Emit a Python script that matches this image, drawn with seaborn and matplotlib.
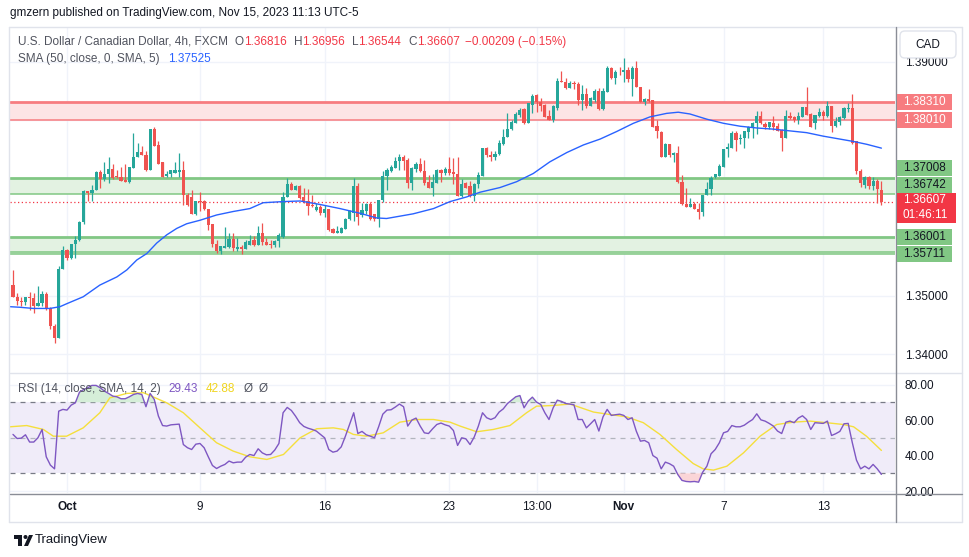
import matplotlib
matplotlib.use("Agg")
import numpy as np
import pandas as pd
import matplotlib.pyplot as plt
import seaborn as sns
from matplotlib.patches import Rectangle, FancyBboxPatch, Polygon, Ellipse
from matplotlib.lines import Line2D

sns.set_theme(style="white")
plt.rcParams["font.family"] = ["Liberation Sans", "DejaVu Sans"]

# USDCAD 4h candles
opens = [
    1.3518, 1.3497, 1.3490, 1.3489, 1.3497, 1.3496, 1.3483, 1.3487, 1.3503, 1.3478,
    1.3448, 1.3428, 1.3546, 1.3578, 1.3565, 1.3588, 1.3595, 1.3626, 1.3679, 1.3675,
    1.3681, 1.3712, 1.3700, 1.3708, 1.3716, 1.3705, 1.3703, 1.3698, 1.3695, 1.3718,
    1.3737, 1.3746, 1.3741, 1.3715, 1.3785, 1.3758, 1.3728, 1.3704, 1.3709, 1.3710,
    1.3711, 1.3715, 1.3672, 1.3668, 1.3640, 1.3662, 1.3662, 1.3648, 1.3622, 1.3589,
    1.3577, 1.3582, 1.3584, 1.3597, 1.3580, 1.3583, 1.3580, 1.3587, 1.3595, 1.3587,
    1.3607, 1.3592, 1.3588, 1.3587, 1.3594, 1.3600, 1.3668, 1.3691, 1.3681, 1.3688,
    1.3668, 1.3662, 1.3655, 1.3647, 1.3651, 1.3642, 1.3648, 1.3614, 1.3608, 1.3608,
    1.3614, 1.3631, 1.3642, 1.3687, 1.3638, 1.3645, 1.3657, 1.3639, 1.3632, 1.3664,
    1.3704, 1.3714, 1.3718, 1.3730, 1.3737, 1.3732, 1.3692, 1.3716, 1.3725, 1.3713,
    1.3695, 1.3685, 1.3693, 1.3715, 1.3710, 1.3717, 1.3711, 1.3709, 1.3671, 1.3692,
    1.3688, 1.3671, 1.3691, 1.3705, 1.3753, 1.3741, 1.3738, 1.3742, 1.3760, 1.3771,
    1.3785, 1.3795, 1.3809, 1.3819, 1.3796, 1.3826, 1.3843, 1.3832, 1.3826, 1.3808,
    1.3801, 1.3821, 1.3868, 1.3866, 1.3856, 1.3864, 1.3863, 1.3835, 1.3845, 1.3825,
    1.3835, 1.3850, 1.3820, 1.3849, 1.3890, 1.3873, 1.3883, 1.3882, 1.3887, 1.3871,
    1.3889, 1.3857, 1.3832, 1.3837, 1.3835, 1.3790, 1.3780, 1.3738, 1.3759, 1.3740,
    1.3745, 1.3694, 1.3657, 1.3652, 1.3656, 1.3649, 1.3643, 1.3672, 1.3682, 1.3703,
    1.3705, 1.3721, 1.3751, 1.3753, 1.3779, 1.3768, 1.3769, 1.3780, 1.3788, 1.3795,
    1.3808, 1.3793, 1.3788, 1.3796, 1.3791, 1.3784, 1.3770, 1.3808, 1.3805, 1.3800,
    1.3806, 1.3823, 1.3811, 1.3796, 1.3808, 1.3814, 1.3808, 1.3824, 1.3791, 1.3798,
    1.3804, 1.3820, 1.3822, 1.3764, 1.3714, 1.3690, 1.3703, 1.3688, 1.3697, 1.36816,
]
highs = [
    1.3544, 1.3504, 1.3498, 1.3498, 1.3506, 1.3504, 1.3516, 1.3508, 1.3506, 1.3481,
    1.3451, 1.3550, 1.3585, 1.3580, 1.3589, 1.3602, 1.3628, 1.3681, 1.3679, 1.3689,
    1.3714, 1.3715, 1.3729, 1.3738, 1.3725, 1.3715, 1.3720, 1.3725, 1.3721, 1.3779,
    1.3762, 1.3756, 1.3748, 1.3785, 1.3789, 1.3765, 1.3729, 1.3714, 1.3715, 1.3728,
    1.3745, 1.3731, 1.3675, 1.3681, 1.3662, 1.3678, 1.3664, 1.3648, 1.3622, 1.3595,
    1.3585, 1.3617, 1.3607, 1.3607, 1.3598, 1.3587, 1.3595, 1.3604, 1.3602, 1.3619,
    1.3624, 1.3598, 1.3595, 1.3596, 1.3607, 1.3678, 1.3701, 1.3694, 1.3689, 1.3689,
    1.3684, 1.3682, 1.3672, 1.3659, 1.3655, 1.3655, 1.3649, 1.3615, 1.3619, 1.3618,
    1.3633, 1.3646, 1.3702, 1.3693, 1.3658, 1.3658, 1.3660, 1.3640, 1.3664, 1.3713,
    1.3718, 1.3724, 1.3738, 1.3742, 1.3741, 1.3735, 1.3721, 1.3728, 1.3735, 1.3732,
    1.3706, 1.3709, 1.3716, 1.3716, 1.3721, 1.3737, 1.3736, 1.3738, 1.3700, 1.3694,
    1.3696, 1.3692, 1.3712, 1.3753, 1.3754, 1.3748, 1.3748, 1.3767, 1.3785, 1.3812,
    1.3801, 1.3815, 1.3821, 1.3821, 1.3830, 1.3845, 1.3845, 1.3838, 1.3828, 1.3818,
    1.3826, 1.3872, 1.3885, 1.3872, 1.3868, 1.3868, 1.3865, 1.3860, 1.3855, 1.3840,
    1.3853, 1.3855, 1.3855, 1.3893, 1.3892, 1.3886, 1.3892, 1.3907, 1.3892, 1.3893,
    1.3901, 1.3858, 1.3839, 1.3854, 1.3835, 1.3801, 1.3782, 1.3761, 1.3760, 1.3746,
    1.3757, 1.3707, 1.3684, 1.3667, 1.3661, 1.3658, 1.3673, 1.3695, 1.3705, 1.3709,
    1.3726, 1.3751, 1.3761, 1.3782, 1.3782, 1.3776, 1.3782, 1.3791, 1.3798, 1.3816,
    1.3816, 1.3798, 1.3798, 1.3808, 1.3795, 1.3786, 1.3818, 1.3814, 1.3808, 1.3815,
    1.3823, 1.3858, 1.3812, 1.3810, 1.3821, 1.3818, 1.3833, 1.3825, 1.3805, 1.3807,
    1.3823, 1.3829, 1.3845, 1.3764, 1.3716, 1.3705, 1.3705, 1.3703, 1.3700, 1.36956,
]
lows = [
    1.3497, 1.3484, 1.3483, 1.3484, 1.3476, 1.3471, 1.3482, 1.3482, 1.3476, 1.3443,
    1.3418, 1.3427, 1.3545, 1.3561, 1.3563, 1.3564, 1.3594, 1.3623, 1.3662, 1.3662,
    1.3680, 1.3684, 1.3697, 1.3692, 1.3699, 1.3701, 1.3697, 1.3695, 1.3692, 1.3718,
    1.3737, 1.3740, 1.3713, 1.3715, 1.3757, 1.3725, 1.3703, 1.3703, 1.3703, 1.3710,
    1.3703, 1.3655, 1.3654, 1.3640, 1.3638, 1.3645, 1.3646, 1.3612, 1.3584, 1.3573,
    1.3571, 1.3581, 1.3581, 1.3577, 1.3577, 1.3572, 1.3580, 1.3587, 1.3585, 1.3587,
    1.3587, 1.3587, 1.3581, 1.3584, 1.3584, 1.3598, 1.3668, 1.3680, 1.3680, 1.3665,
    1.3659, 1.3638, 1.3651, 1.3644, 1.3638, 1.3635, 1.3611, 1.3608, 1.3607, 1.3607,
    1.3614, 1.3629, 1.3628, 1.3621, 1.3635, 1.3639, 1.3630, 1.3627, 1.3618, 1.3661,
    1.3680, 1.3712, 1.3718, 1.3715, 1.3715, 1.3685, 1.3680, 1.3712, 1.3711, 1.3689,
    1.3684, 1.3671, 1.3692, 1.3694, 1.3706, 1.3706, 1.3691, 1.3671, 1.3669, 1.3684,
    1.3669, 1.3662, 1.3684, 1.3705, 1.3738, 1.3731, 1.3732, 1.3741, 1.3758, 1.3771,
    1.3783, 1.3795, 1.3806, 1.3794, 1.3795, 1.3813, 1.3815, 1.3816, 1.3805, 1.3801,
    1.3798, 1.3818, 1.3865, 1.3853, 1.3855, 1.3853, 1.3827, 1.3818, 1.3821, 1.3824,
    1.3832, 1.3818, 1.3818, 1.3848, 1.3871, 1.3863, 1.3877, 1.3866, 1.3865, 1.3842,
    1.3857, 1.3831, 1.3827, 1.3832, 1.3789, 1.3769, 1.3738, 1.3738, 1.3738, 1.3729,
    1.3692, 1.3655, 1.3652, 1.3652, 1.3648, 1.3631, 1.3637, 1.3672, 1.3672, 1.3702,
    1.3705, 1.3721, 1.3738, 1.3753, 1.3748, 1.3759, 1.3753, 1.3770, 1.3770, 1.3776,
    1.3793, 1.3786, 1.3786, 1.3784, 1.3782, 1.3748, 1.3769, 1.3802, 1.3798, 1.3793,
    1.3806, 1.3810, 1.3789, 1.3785, 1.3806, 1.3801, 1.3806, 1.3780, 1.3789, 1.3792,
    1.3802, 1.3815, 1.3760, 1.3708, 1.3686, 1.3685, 1.3682, 1.3680, 1.3659, 1.36544,
]
closes = [
    1.3497, 1.3490, 1.3489, 1.3497, 1.3496, 1.3482, 1.3487, 1.3503, 1.3478, 1.3448,
    1.3428, 1.3546, 1.3578, 1.3565, 1.3588, 1.3595, 1.3626, 1.3679, 1.3675, 1.3681,
    1.3712, 1.3700, 1.3708, 1.3716, 1.3702, 1.3703, 1.3697, 1.3695, 1.3721, 1.3737,
    1.3746, 1.3740, 1.3715, 1.3785, 1.3757, 1.3725, 1.3703, 1.3709, 1.3715, 1.3715,
    1.3715, 1.3672, 1.3655, 1.3640, 1.3662, 1.3661, 1.3648, 1.3621, 1.3588, 1.3577,
    1.3585, 1.3585, 1.3597, 1.3581, 1.3583, 1.3580, 1.3592, 1.3594, 1.3587, 1.3607,
    1.3591, 1.3587, 1.3587, 1.3593, 1.3603, 1.3668, 1.3691, 1.3681, 1.3688, 1.3667,
    1.3661, 1.3654, 1.3653, 1.3651, 1.3641, 1.3648, 1.3613, 1.3608, 1.3611, 1.3616,
    1.3632, 1.3644, 1.3687, 1.3635, 1.3647, 1.3657, 1.3632, 1.3632, 1.3664, 1.3704,
    1.3715, 1.3720, 1.3731, 1.3737, 1.3731, 1.3692, 1.3718, 1.3725, 1.3714, 1.3693,
    1.3685, 1.3695, 1.3715, 1.3710, 1.3717, 1.3710, 1.3709, 1.3671, 1.3691, 1.3685,
    1.3671, 1.3691, 1.3706, 1.3753, 1.3740, 1.3738, 1.3742, 1.3761, 1.3771, 1.3786,
    1.3798, 1.3811, 1.3818, 1.3796, 1.3829, 1.3842, 1.3832, 1.3825, 1.3806, 1.3801,
    1.3825, 1.3868, 1.3866, 1.3856, 1.3864, 1.3863, 1.3835, 1.3845, 1.3825, 1.3838,
    1.3850, 1.3820, 1.3850, 1.3890, 1.3873, 1.3882, 1.3882, 1.3887, 1.3871, 1.3889,
    1.3857, 1.3832, 1.3837, 1.3834, 1.3789, 1.3782, 1.3738, 1.3759, 1.3741, 1.3745,
    1.3694, 1.3657, 1.3652, 1.3657, 1.3649, 1.3643, 1.3672, 1.3682, 1.3702, 1.3708,
    1.3722, 1.3751, 1.3755, 1.3779, 1.3766, 1.3770, 1.3781, 1.3789, 1.3796, 1.3808,
    1.3795, 1.3788, 1.3797, 1.3788, 1.3782, 1.3770, 1.3808, 1.3804, 1.3800, 1.3808,
    1.3823, 1.3810, 1.3789, 1.3809, 1.3814, 1.3808, 1.3824, 1.3791, 1.3799, 1.3805,
    1.3822, 1.3822, 1.3762, 1.3713, 1.3692, 1.3703, 1.3688, 1.3697, 1.3682, 1.36607,
]
rsi = [
    51.9, 49.6, 49.8, 51.7, 47.6, 47.6, 50.0, 54.7, 39.3, 34.6,
    32.5, 65.0, 66.0, 65.6, 68.4, 69.7, 75.7, 77.2, 78.2, 79.5,
    79.5, 78.2, 76.3, 75.0, 73.5, 73.1, 72.0, 72.0, 73.1, 74.4,
    75.0, 74.4, 67.5, 75.0, 71.6, 62.2, 56.9, 56.6, 57.3, 57.5,
    57.7, 46.2, 44.4, 43.4, 46.4, 46.8, 44.4, 39.3, 34.4, 32.7,
    34.0, 35.0, 36.9, 35.9, 36.3, 36.3, 39.1, 40.6, 40.0, 43.8,
    41.5, 40.4, 40.6, 43.1, 46.8, 64.1, 67.1, 65.4, 62.2, 58.5,
    56.4, 55.4, 54.7, 53.8, 51.9, 50.0, 43.4, 41.9, 42.5, 44.9,
    50.9, 57.5, 64.1, 52.4, 53.6, 51.7, 50.9, 50.0, 56.2, 63.3,
    65.6, 65.8, 67.3, 69.0, 67.5, 56.6, 60.0, 61.1, 56.6, 52.8,
    52.4, 55.1, 57.5, 58.3, 57.3, 56.6, 54.1, 45.7, 50.0, 49.4,
    46.2, 50.4, 56.6, 64.1, 61.3, 60.3, 61.3, 64.5, 66.3, 69.3,
    71.2, 73.1, 73.8, 66.9, 70.7, 72.9, 70.1, 68.8, 64.1, 60.3,
    66.9, 71.2, 70.5, 69.3, 69.0, 68.6, 60.3, 60.3, 55.6, 57.9,
    60.3, 53.8, 61.8, 66.0, 62.6, 63.0, 63.3, 62.6, 60.3, 61.3,
    53.8, 48.1, 48.5, 47.2, 40.0, 38.5, 32.5, 36.3, 35.4, 34.0,
    29.3, 26.0, 25.4, 25.2, 25.4, 25.0, 30.7, 34.0, 41.0, 43.4,
    47.2, 52.8, 53.6, 56.9, 56.2, 56.2, 57.1, 58.8, 60.3, 63.5,
    60.1, 59.4, 58.1, 56.6, 53.8, 52.4, 58.8, 59.4, 58.5, 61.1,
    62.4, 60.3, 54.7, 58.5, 58.3, 58.1, 59.4, 51.3, 52.3, 53.6,
    57.9, 58.1, 47.2, 37.4, 32.5, 34.0, 32.5, 35.0, 32.5, 29.4,
]

# SMA(50) on price and SMA(14) on RSI, read at bar positions
sma_pos = [-0.7, 1.7, 4.9, 8.9, 11.3, 12.9, 16.9, 20.9, 25.0, 27.4, 29.8, 32.2, 34.6,
           37.0, 39.4, 41.8, 45.0, 49.0, 53.0, 57.0, 60.2, 65.1, 69.1, 73.9, 78.7,
           83.5, 87.5, 89.9, 93.1, 96.3, 101.2, 105.2, 109.2, 112.4, 117.2, 121.2,
           125.2, 129.2, 133.3, 137.3, 141.3, 145.3, 149.3, 153.3, 157.3, 160.1,
           162.9, 167.0, 171.0, 175.0, 179.0, 183.0, 187.0, 191.0, 195.0, 199.0,
           202.2, 205.5, 209.0]
sma_val = [1.3481, 1.3480, 1.3478, 1.3478, 1.3481, 1.3486, 1.3498, 1.3518, 1.3532,
           1.3544, 1.3561, 1.3572, 1.3590, 1.3604, 1.3615, 1.3623, 1.3629, 1.3638,
           1.3644, 1.3649, 1.3659, 1.3661, 1.3662, 1.3656, 1.3649, 1.3641, 1.3633,
           1.3632, 1.3636, 1.3640, 1.3649, 1.3661, 1.3669, 1.3677, 1.3685, 1.3695,
           1.3709, 1.3729, 1.3745, 1.3758, 1.3768, 1.3781, 1.3795, 1.3806, 1.3812,
           1.3814, 1.3811, 1.3802, 1.3795, 1.3790, 1.3787, 1.3785, 1.3782, 1.3779,
           1.3773, 1.3768, 1.3764, 1.3759, 1.37525]
rsi_ma_pos = [-0.7, 3.3, 7.3, 9.7, 12.9, 16.9, 20.9, 23.3, 27.4, 31.4, 37.0, 41.0,
              45.0, 49.0, 53.0, 57.0, 61.1, 65.1, 69.1, 73.1, 77.1, 79.5, 81.9,
              85.1, 89.1, 93.1, 97.2, 101.2, 105.2, 107.6, 111.6, 115.6, 119.6,
              123.6, 126.0, 130.0, 134.0, 135.6, 139.7, 143.7, 147.7, 151.7, 155.7,
              159.7, 163.7, 166.1, 168.6, 171.8, 175.8, 179.8, 183.8, 187.8, 191.8,
              195.8, 199.8, 202.3, 205.4, 209.0]
rsi_ma = [56.2, 56.9, 54.7, 50.9, 50.9, 55.6, 64.1, 72.5, 75.0, 75.4, 69.7, 64.1,
          55.6, 47.2, 42.5, 39.3, 37.8, 40.6, 50.0, 55.1, 55.6, 54.7, 51.9, 50.9,
          52.8, 58.8, 60.3, 60.3, 58.8, 56.6, 53.4, 54.7, 56.9, 64.1, 67.8, 68.2,
          69.0, 67.8, 64.5, 63.1, 61.8, 58.5, 51.9, 43.4, 35.5, 32.5, 31.8, 34.0,
          41.5, 50.9, 57.5, 58.8, 59.4, 58.5, 57.5, 56.2, 50.9, 42.88]

# support / resistance zones (top, bottom) and colours
zone_tops = [1.38310, 1.37008, 1.36001]
zone_bottoms = [1.38010, 1.36742, 1.35711]
zone_kind = ["res", "sup", "sup"]
last_price = 1.36607
countdown = "01:46:11"

tick_pos = [13, 45, 75, 105, 126, 147, 171, 195]
tick_labels = ["Oct", "9", "16", "23", "13:00", "Nov", "7", "13"]
price_ticks = [1.34, 1.35, 1.36, 1.37, 1.38, 1.39]
price_tick_labels = ["1.34000", "1.35000", "", "", "", "1.39000"]
rsi_ticks = [20, 40, 60, 80]

GREEN, RED = "#26a69a", "#ef5350"
TXT = "#131722"
GREY_TXT = "#50535e"

df = pd.DataFrame({"open": opens, "high": highs, "low": lows, "close": closes, "rsi": rsi})
df["i"] = np.arange(len(df))

W, H = 970, 557
fig = plt.figure(figsize=(W / 100, H / 100), dpi=100)
fig.patch.set_facecolor("white")


def fx(x):
    return x / W


def fy(y):
    return 1 - y / H


ax = fig.add_axes([fx(10), fy(373), (895 - 10) / W, (373 - 27) / H])
rax = fig.add_axes([fx(10), fy(493), (895 - 10) / W, (493 - 373) / H], sharex=ax)

# zones
for top, bot, kind in zip(zone_tops, zone_bottoms, zone_kind):
    if kind == "res":
        fill, line = "#fde4e5", "#f77c80"
    else:
        fill, line = "#e3f2e2", "#81c784"
    ax.axhspan(bot, top, color=fill, lw=0, zorder=1)
    ax.axhline(top, color=line, lw=2.0, zorder=2)
    ax.axhline(bot, color=line, lw=1.1, zorder=2)
ax.axhline(1.35740, color="#81c784", lw=1.1, zorder=2)
ax.axhline(last_price, color="#f23645", lw=0.9, ls=(0, (1, 2)), zorder=3)

# candles
col = np.where(df.close >= df.open, GREEN, RED)
ax.vlines(df.i, df.low, df.high, colors=col, lw=0.9, zorder=4)
body_lo = np.minimum(df.open, df.close)
body_h = np.maximum((df.close - df.open).abs(), 0.00014)
ax.bar(df.i, body_h, bottom=body_lo, width=0.76, color=col, lw=0, zorder=5)

sns.lineplot(x=sma_pos, y=sma_val, ax=ax, color="#2962ff", lw=1.0, zorder=6)

# RSI pane
rax.axhspan(30, 70, color="#f0ecf9", lw=0, zorder=1)
rax.axhline(70, color="#787b86", lw=0.9, ls=(0, (4, 4)), zorder=2)
rax.axhline(30, color="#787b86", lw=0.9, ls=(0, (4, 4)), zorder=2)
rax.axhline(50, color="#b2b5be", lw=0.9, ls=(0, (4, 4)), zorder=2)
r = df.rsi.values
rax.fill_between(df.i, r, 70, where=r > 70, interpolate=True, color="#d5eed8", lw=0, zorder=2)
rax.fill_between(df.i, r, 30, where=r < 30, interpolate=True, color="#fbd5d7", lw=0, zorder=2)
sns.lineplot(x=df.i, y=df.rsi, ax=rax, color="#7e57c2", lw=1.0, zorder=4)
sns.lineplot(x=rsi_ma_pos, y=rsi_ma, ax=rax, color="#f5df3c", lw=1.0, zorder=3)

ax.set_xlim(-0.72, 212.27)
ax.set_ylim(1.336747, 1.39599)
rax.set_ylim(18.9, 86.5)

for a in (ax, rax):
    for s in a.spines.values():
        s.set_visible(False)
    a.set_xlabel("")
    a.set_ylabel("")
    a.yaxis.tick_right()
    a.grid(True, color="#f0f3fa", lw=1)
    a.set_axisbelow(True)
    a.tick_params(axis="y", length=0, pad=7, labelsize=8.5, labelcolor=TXT)

ax.set_yticks(price_ticks)
ax.set_yticklabels(price_tick_labels)
rax.set_yticks(rsi_ticks)
rax.set_yticklabels([f"{v:.2f}" for v in rsi_ticks])
rax.set_xticks(tick_pos)
rax.set_xticklabels(tick_labels)
ax.tick_params(axis="x", length=0, labelbottom=False)
rax.tick_params(axis="x", length=0, pad=5.5, labelsize=8.5, labelcolor=TXT)
for lab in rax.get_xticklabels():
    if lab.get_text() in ("Oct", "Nov"):
        lab.set_fontweight("bold")


# frame lines
def hline(y, x0, x1, color, lw=1):
    fig.add_artist(Line2D([fx(x0), fx(x1)], [fy(y), fy(y)], transform=fig.transFigure, color=color, lw=lw))


def vline(x, y0, y1, color, lw=1):
    fig.add_artist(Line2D([fx(x), fx(x)], [fy(y0), fy(y1)], transform=fig.transFigure, color=color, lw=lw))


hline(27, 9, 962, "#e0e3eb")
hline(522, 9, 962, "#e0e3eb")
vline(9.5, 27, 522, "#e0e3eb")
vline(962, 27, 522, "#e0e3eb")
hline(373, 10, 962, "#e0e3eb")
vline(895.5, 27, 522, "#8a8d96")
hline(493.5, 10, 962, "#8a8d96")

# texts
renderer = fig.canvas.get_renderer()


def text_run(x, y, parts, size=8.5):
    for s, c, gap in parts:
        t = fig.text(fx(x), fy(y), s, color=c, fontsize=size, va="center", ha="left")
        x += t.get_window_extent(renderer).width + gap


fig.text(fx(10), fy(13), "gmzern published on TradingView.com, Nov 15, 2023 11:13 UTC-5",
         fontsize=8.5, color=TXT, va="center")
o, h, l, c = opens[-1], highs[-1], lows[-1], closes[-1]
text_run(18, 42, [
    ("U.S. Dollar / Canadian Dollar, 4h, FXCM", GREY_TXT, 7),
    ("O", GREY_TXT, 0), (f"{o:.5f}", "#f23645", 7),
    ("H", GREY_TXT, 0), (f"{h:.5f}", "#f23645", 7),
    ("L", GREY_TXT, 0), (f"{l:.5f}", "#f23645", 7),
    ("C", GREY_TXT, 0), (f"{c:.5f}", "#f23645", 5),
    ("\u22120.00209 (\u22120.15%)", "#f23645", 0),
])
text_run(18, 59, [("SMA (50, close, 0, SMA, 5)", GREY_TXT, 8), ("1.37525", "#2962ff", 0)])
text_run(18, 389, [("RSI (14, close, SMA, 14, 2)", GREY_TXT, 8), ("29.43", "#7e57c2", 8),
                   ("42.88", "#f0d41c", 8), ("\u00d8", GREY_TXT, 6), ("\u00d8", GREY_TXT, 0)])

# CAD box
fig.add_artist(FancyBboxPatch((fx(900), fy(58)), 56 / W, 27 / H,
                              boxstyle="round,pad=0,rounding_size=0.005",
                              mutation_aspect=W / H, transform=fig.transFigure,
                              fc="white", ec="#e0e3eb", lw=1, zorder=10))
fig.text(fx(928), fy(44.5), "CAD", fontsize=8.5, color=TXT, ha="center", va="center", zorder=11)


# price-scale labels (shifted apart like the platform does)
def ypix(v):
    return H - ax.transData.transform((0, v))[1]


cur_y = ypix(last_price)
cur_top, cur_bot = cur_y - 8.5, cur_y + 21.5
labels = []
for top, bot, kind in zip(zone_tops, zone_bottoms, zone_kind):
    for v in (top, bot):
        labels.append((v, kind))
above = sorted([lv for lv in labels if lv[0] > last_price], key=lambda t: t[0])
below = sorted([lv for lv in labels if lv[0] < last_price], key=lambda t: -t[0])
placed = []
lim = cur_top
for v, kind in above:
    yc = min(ypix(v), lim - 8.5)
    placed.append((v, kind, yc))
    lim = yc - 8.5
lim = cur_bot
for v, kind in below:
    yc = max(ypix(v), lim + 8.5)
    placed.append((v, kind, yc))
    lim = yc + 8.5

for v, kind, yc in placed:
    fc, tc = ("#f77c80", "white") if kind == "res" else ("#81c784", TXT)
    fig.add_artist(Rectangle((fx(897), fy(yc + 8)), 55 / W, 16 / H, transform=fig.transFigure,
                             fc=fc, ec="none", zorder=10))
    fig.text(fx(903), fy(yc), f"{v:.5f}", fontsize=8.5, color=tc, va="center", zorder=11)

fig.add_artist(Rectangle((fx(897), fy(cur_bot)), 59 / W, 30 / H, transform=fig.transFigure,
                         fc="#f23645", ec="none", zorder=10))
fig.text(fx(903), fy(cur_y - 1.5), f"{last_price:.5f}", fontsize=8.5, color="white", va="center", zorder=11)
fig.text(fx(903), fy(cur_y + 13), countdown, fontsize=8.5, color="white", va="center", zorder=11)

# footer logo
fig.add_artist(Rectangle((fx(14), fy(539)), 8 / W, 4 / H, transform=fig.transFigure, fc=TXT, ec="none"))
fig.add_artist(Rectangle((fx(18), fy(546)), 4 / W, 11 / H, transform=fig.transFigure, fc=TXT, ec="none"))
fig.add_artist(Ellipse((fx(25.5), fy(537)), 4 / W, 4 / H, transform=fig.transFigure, fc=TXT, ec="none"))
fig.add_artist(Polygon([(fx(24), fy(546)), (fx(29), fy(535)), (fx(33), fy(535)), (fx(28), fy(546))],
                       closed=True, transform=fig.transFigure, fc=TXT, ec="none"))
fig.text(fx(35), fy(540), "TradingView", fontsize=9.5, color=TXT, va="center")

fig.savefig("out.png", dpi=100, facecolor="white")
